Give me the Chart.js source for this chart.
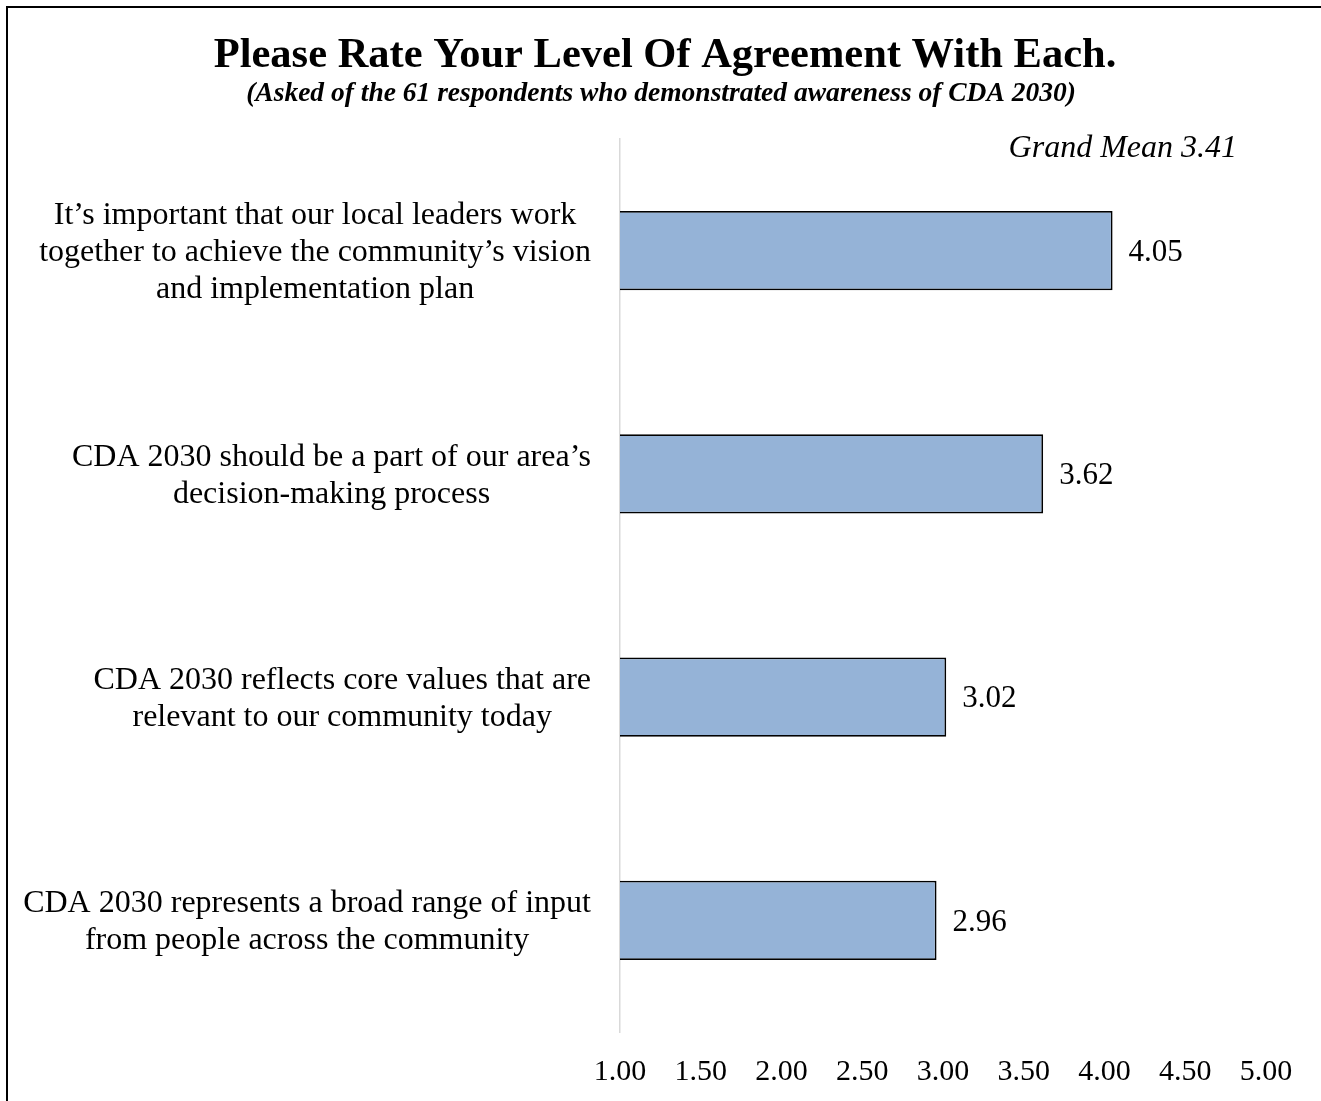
<!DOCTYPE html>
<html>
<head>
<meta charset="utf-8">
<script src="https://cdn.jsdelivr.net/npm/chart.js@4/dist/chart.umd.min.js"></script>
<style>
html,body{margin:0;padding:0;background:#fff;overflow:hidden;}
#wrap{position:relative;width:1321px;height:1101px;}
</style>
</head>
<body>
<div id="wrap"><canvas id="c" width="1321" height="1101"></canvas></div>
<script>
const titleText = 'Please Rate Your Level Of Agreement With Each.';
const subtitleText = '(Asked of the 61 respondents who demonstrated awareness of CDA 2030)';
const noteText = 'Grand Mean 3.41';
const categories = [
  ['It\u2019s important that our local leaders work', 'together to achieve the community\u2019s vision', 'and implementation plan'],
  ['CDA 2030 should be a part of our area\u2019s', 'decision-making process'],
  ['CDA 2030 reflects core values that are', 'relevant to our community today'],
  ['CDA 2030 represents a broad range of input', 'from people across the community']
];
const means = [4.05, 3.62, 3.02, 2.96];
const xMin = 1, xMax = 5, xStep = 0.5;

const SERIF = '"Liberation Serif", "Times New Roman", serif';

const decor = {
  id: 'decor',
  afterDraw(chart) {
    const ctx = chart.ctx;
    const xs = chart.scales.x, ys = chart.scales.y;
    ctx.save();
    // frame (top and left)
    ctx.strokeStyle = '#000';
    ctx.lineWidth = 2;
    ctx.beginPath();
    ctx.moveTo(7, 1101); ctx.lineTo(7, 7); ctx.lineTo(1321, 7);
    ctx.stroke();
    // title
    ctx.fillStyle = '#000';
    ctx.textAlign = 'center';
    ctx.textBaseline = 'alphabetic';
    ctx.font = 'bold 42.5px ' + SERIF;
    ctx.fillText(titleText, 665, 67);
    ctx.font = 'italic bold 27.5px ' + SERIF;
    ctx.fillText(subtitleText, 661, 101);
    ctx.font = 'italic 32px ' + SERIF;
    ctx.textAlign = 'right';
    ctx.fillText(noteText, 1237, 157);
    // y category labels: block right edge at 591, lines centered in block
    ctx.font = '32px ' + SERIF;
    ctx.textBaseline = 'middle';
    ctx.textAlign = 'center';
    const lh = 37;
    categories.forEach((lines, i) => {
      const yc = ys.getPixelForValue(i);
      const w = Math.max(...lines.map(l => ctx.measureText(l).width));
      const cx = 591 - w / 2;
      const y0 = yc - (lines.length - 1) * lh / 2 + 2;
      lines.forEach((l, j) => ctx.fillText(l, cx, y0 + j * lh));
    });
    // value labels
    ctx.font = '31px ' + SERIF;
    ctx.textAlign = 'left';
    const meta = chart.getDatasetMeta(0);
    meta.data.forEach((bar, i) => {
      ctx.fillText(means[i].toFixed(2), bar.x + 16, bar.y + 2);
    });
    // x tick labels
    ctx.font = '30px ' + SERIF;
    ctx.textAlign = 'center';
    xs.ticks.forEach(t => {
      const px = xs.getPixelForValue(t.value);
      ctx.fillText(t.value.toFixed(2), px, 1072);
    });
    ctx.restore();
  }
};

new Chart(document.getElementById('c'), {
  type: 'bar',
  data: {
    labels: categories,
    datasets: [{
      data: means,
      backgroundColor: '#95B3D7',
      borderColor: '#000',
      borderWidth: 1.8,
      borderSkipped: 'start',
      barPercentage: 0.355,
      categoryPercentage: 1
    }]
  },
  options: {
    indexAxis: 'y',
    responsive: false,
    animation: false,
    devicePixelRatio: 1,
    layout: { padding: { left: 620, right: 55, top: 139, bottom: 69 } },
    plugins: { legend: { display: false }, tooltip: { enabled: false }, title: { display: false } },
    scales: {
      x: {
        min: xMin, max: xMax,
        ticks: { display: false, stepSize: xStep },
        grid: { display: false, drawTicks: false },
        border: { display: false }
      },
      y: {
        ticks: { display: false },
        grid: { display: false, drawTicks: false },
        border: { display: true, color: '#d9d9d9', width: 1.5 }
      }
    }
  },
  plugins: [decor]
});
</script>
</body>
</html>
